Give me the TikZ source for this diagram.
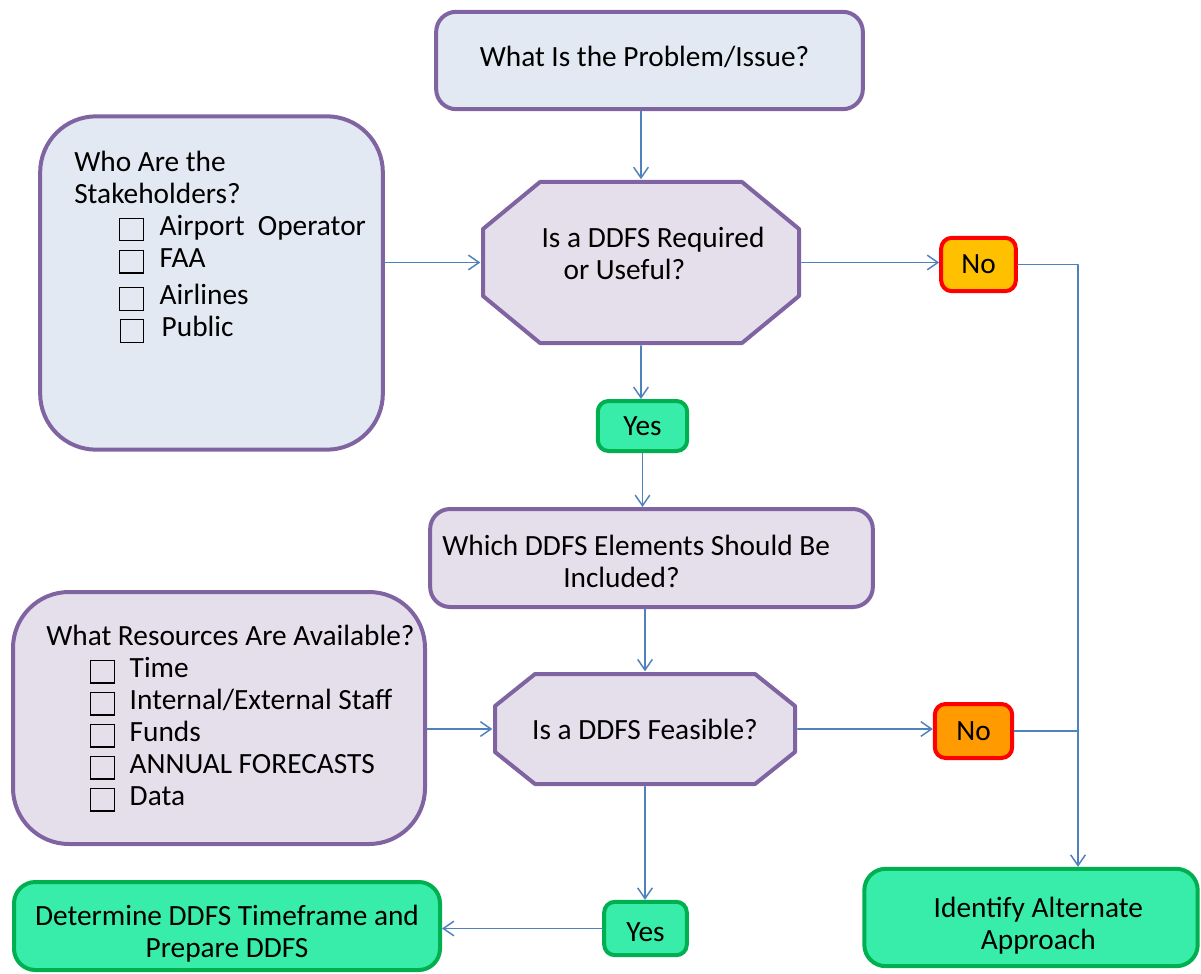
\documentclass[tikz,border=0pt]{standalone}
\usepackage{fontspec}
\setmainfont{Carlito}
\usepackage{xcolor}
\usetikzlibrary{positioning,arrows.meta}

\definecolor{boxPurple}{HTML}{8064A2}
\definecolor{fillBlue}{HTML}{E3E9F3}
\definecolor{fillLilac}{HTML}{E5DFEC}
\definecolor{lineBlue}{HTML}{4F81BD}
\definecolor{fillGreen}{HTML}{38EDA9}
\definecolor{edgeGreen}{HTML}{00B050}
\definecolor{fillGold}{HTML}{FFC000}
\definecolor{fillOrange}{HTML}{FF9A00}

\newcommand{\flow}{\fontsize{22}{24}\selectfont}
\newcommand{\chk}{\raisebox{-3.5pt}{\setlength{\fboxsep}{0pt}\setlength{\fboxrule}{0.9pt}\fbox{\rule{0pt}{16pt}\hspace{16.8pt}}}}
% text block moved up/down without changing the box size
\newcommand{\boxText}[3]{\raisebox{#1}[\height][\depth]{\begin{tabular}{@{}#2@{}}#3\end{tabular}}}
% octagon: centre x, centre y, half width, half height, cut x, cut y
\newcommand{\octagonAt}[6]{%
	\filldraw[octline] ({#1-#3+#5},{#2-#4}) -- ({#1+#3-#5},{#2-#4}) -- ({#1+#3},{#2-#4+#6})
	-- ({#1+#3},{#2+#4-#6}) -- ({#1+#3-#5},{#2+#4}) -- ({#1-#3+#5},{#2+#4})
	-- ({#1-#3},{#2+#4-#6}) -- ({#1-#3},{#2-#4+#6}) -- cycle;}

\begin{document}
\begin{tikzpicture}[x=0.75pt,y=-0.75pt, line cap=round,line join=round,
		>={Straight Barb[length=8pt,width=11pt]},
		boxbase/.style={line width=3pt, font=\flow, align=center, inner sep=2pt},
		askbox/.style={boxbase, draw=boxPurple, rounded corners=15pt},
		octline/.style={draw=boxPurple, fill=fillLilac, line width=3pt},
		octtxt/.style={font=\flow, align=center, inner sep=2pt, outer sep=2pt},
		yesbox/.style={boxbase, draw=edgeGreen, fill=fillGreen, rounded corners=8pt},
		nobox/.style={boxbase, draw=red, rounded corners=8pt},
		endbox/.style={boxbase, draw=edgeGreen, fill=fillGreen, rounded corners=16pt},
		listtxt/.style={font=\flow, align=left, inner sep=0pt, anchor=north west},
		conn/.style={->, draw=lineBlue, line width=1.1pt}]
	
	\useasboundingbox (0,0) rectangle (1201,973);
	
	% ---- main column
	\node[askbox, fill=fillBlue, minimum width=320pt, minimum height=73pt]
	(prob) at (649.5,60.5) {\boxText{0pt}{c}{What Is the Problem/Issue?}\hspace*{7.5pt}};
	
	\octagonAt{641}{262.5}{158}{80.5}{57}{47}
	\node[octtxt, minimum width=237pt, minimum height=121pt] (req) at (641,262.5)
	{\hspace*{18pt}\boxText{4.1pt}{l}{Is a DDFS Required\\\hspace*{16.5pt}or Useful?}};
	
	\node[yesbox, minimum width=67pt, minimum height=37.5pt] (yesA) at (642.5,426) {Yes};
	
	\node[askbox, fill=fillLilac, minimum width=332pt, minimum height=73.5pt]
	(incl) at (651.5,558) {\boxText{-5.6pt}{l}{Which DDFS Elements Should Be\\\hspace*{90.75pt}Included?}\hspace*{23pt}};
	
	\octagonAt{645}{729}{150}{55}{40}{32}
	\node[octtxt, minimum width=225pt, minimum height=82.5pt] (feas) at (645,729) {Is a DDFS Feasible?};
	
	\node[yesbox, minimum width=62pt, minimum height=40pt] (yesB) at (645.5,928.5) {\boxText{-5.25pt}{c}{Yes}};
	
	% ---- right side
	\node[nobox, fill=fillGold, minimum width=56pt, minimum height=40pt] (noA) at (978.5,264.5) {No};
	\node[nobox, fill=fillOrange, minimum width=58pt, minimum height=40.5pt] (noB) at (973.5,731) {No};
	\node[endbox, minimum width=250pt, minimum height=73pt] (alt) at (1031,917.5)
	{\hspace*{11pt}\boxText{-7.1pt}{c}{Identify Alternate\\Approach}};
	\coordinate (bus) at (1078,0);
	
	% ---- left side
	\node[askbox, fill=fillBlue, rounded corners=42pt, minimum width=257pt, minimum height=250pt]
	(stake) at (211.5,283) {};
	\node[listtxt] (stakeTxt) at (74,151) {Who Are the\\Stakeholders?\\
		\hspace*{33.5pt}\chk\hspace{12pt}Airport\ \ Operator\\
		\hspace*{33.5pt}\chk\hspace{12pt}FAA\\[4pt]
		\hspace*{33.5pt}\chk\hspace{12pt}Airlines\\
		\hspace*{34pt}\chk\hspace{13pt}Public};
	
	\node[askbox, fill=fillLilac, rounded corners=42pt, minimum width=309pt, minimum height=189pt]
	(res) at (219,718) {};
	\node[listtxt] (resTxt) at (46,625) {What Resources Are Available?\\
		\hspace*{33pt}\chk\hspace{11pt}Time\\
		\hspace*{33pt}\chk\hspace{11pt}Internal/External Staff\\
		\hspace*{33pt}\chk\hspace{11pt}Funds\\
		\hspace*{33pt}\chk\hspace{11pt}ANNUAL FORECASTS\\
		\hspace*{33pt}\chk\hspace{11pt}Data};
	
	\node[endbox, minimum width=319.5pt, minimum height=66pt] (prep) at (227,926)
	{\boxText{-7.1pt}{c}{Determine DDFS Timeframe and\\Prepare DDFS}};
	
	% ---- connectors
	\draw[conn] (prob.south -| req.north) -- (req.north);
	\draw[conn] (stake.east |- req.west) -- (req.west);
	\draw[conn] (req.east) -- (req.east -| noA.west);
	\draw[conn] (noA.east) -| (bus |- alt.north);
	\draw[conn] (req.south) -- (req.south |- yesA.north);
	\draw[conn] (yesA.south) -- (yesA.south |- incl.north);
	\draw[conn] (incl.south -| feas.north) -- (feas.north);
	\draw[conn] (res.east |- feas.west) -- (feas.west);
	\draw[conn] (feas.east) -- (feas.east -| noB.west);
	\draw[conn, -] (noB.east) -- (noB.east -| bus);
	\draw[conn] (feas.south) -- (feas.south |- yesB.north);
	\draw[conn] (yesB.west) -- (yesB.west -| prep.east);
	
\end{tikzpicture}
\end{document}
